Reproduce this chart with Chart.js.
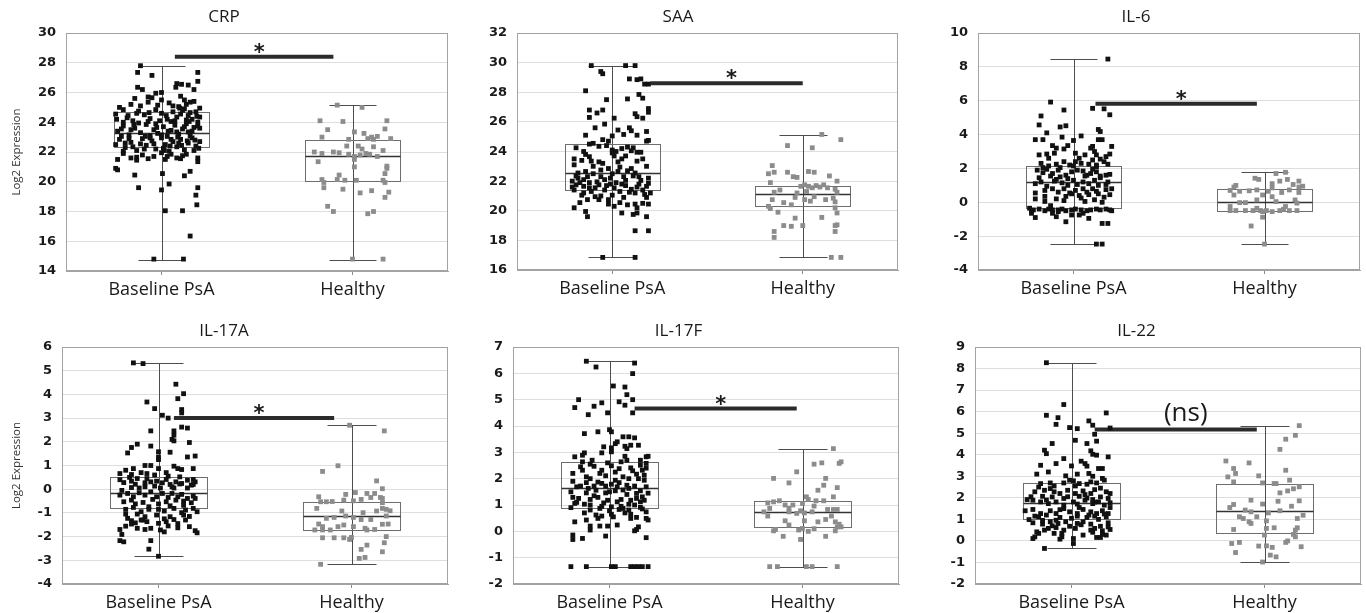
<!DOCTYPE html>
<html>
<head>
<meta charset="utf-8">
<script src="https://cdn.jsdelivr.net/npm/chart.js@4.4.1/dist/chart.umd.min.js"></script>
<style>
html, body { margin: 0; padding: 0; background: #fff; overflow: hidden; }
body { width: 1366px; height: 613px; position: relative; }
.panel { position: absolute; }
</style>
</head>
<body>
<script>
// categories and panel labels
const categories = ['Baseline PsA', 'Healthy'];
const titles = ['CRP', 'SAA', 'IL-6', 'IL-17A', 'IL-17F', 'IL-22'];
const yTitles = ['Log2 Expression', '', '', 'Log2 Expression', '', ''];
const yMins = [14, 16, -4, -4, -2, -2];
const yMaxs = [30, 32, 10, 6, 7, 9];
const ySteps = [2, 2, 2, 1, 1, 1];

// significance bars: start / end on the category axis, height, label
const sigFrom = [0.07, 0.2, 0.115, 0.08, 0.13, 0.12];
const sigTo = [0.9, 1.0, 0.96, 0.91, 0.97, 0.96];
const sigY = [28.4, 28.6, 5.82, 3.0, 4.66, 5.17];
const sigLabels = ['*', '*', '*', '*', '*', '(ns)'];

// box stats per group: [min, q1, median, q3, max]
const crpStats = [[14.75, 22.35, 23.25, 24.7, 27.75], [14.75, 20.05, 21.75, 22.8, 25.15]];
const saaStats = [[16.85, 21.4, 22.55, 24.5, 29.75], [16.85, 20.3, 21.1, 21.7, 25.1]];
const il6Stats = [[-2.47, -0.35, 1.18, 2.17, 8.46], [-2.47, -0.49, 0.04, 0.77, 1.76]];
const il17aStats = [[-2.83, -0.78, -0.17, 0.52, 5.33], [-3.17, -1.72, -1.13, -0.53, 2.7]];
const il17fStats = [[-1.34, 0.87, 1.63, 2.64, 6.46], [-1.34, 0.15, 0.74, 1.16, 3.14]];
const il22Stats = [[-0.35, 1.04, 1.77, 2.69, 8.27], [-0.98, 0.39, 1.4, 2.66, 5.35]];

// individual samples: [jitter from category centre, log2 value]
const crpBase = [[-0.11,27.8],[-0.125,27.35],[-0.05,27.15],[0.19,27.35],
[0.19,26.75],[-0.125,26.35],[-0.1,26.2],[0.075,26.35],[0.08,26.6],[0.105,26.55],[0.14,26.5],[0.17,26.2],[-0.03,25.95],[0.0,26.0],
[-0.14,25.6],[-0.07,25.7],[-0.05,25.65],[0.0,25.5],[0.04,25.3],[0.1,25.75],[0.12,25.5],[0.15,25.35],[-0.16,25.2],[-0.11,25.1],[-0.02,25.15],[0.06,25.1],[0.17,25.4],[-0.22,25.0],[0.09,25.05],[0.2,24.95],
[-0.24,24.55],[-0.2,24.85],[-0.18,24.3],[-0.13,24.6],[-0.09,24.5],[-0.06,24.25],[-0.03,24.85],[0.0,24.6],[0.03,24.2],[0.06,24.7],[0.08,24.35],[0.1,24.55],[0.12,24.9],[0.14,24.45],[0.16,24.2],[0.18,24.7],[0.19,24.0],[-0.15,24.1],[-0.07,24.05],[0.05,24.05],[0.13,24.15],[0.2,24.35],[-0.01,24.1],[0.11,24.8],[0.15,24.65],
[-0.23,23.4],[-0.2,23.75],[-0.17,23.15],[-0.14,23.6],[-0.11,23.3],[-0.08,23.85],[-0.06,23.1],[-0.04,23.5],[-0.02,23.25],[0.01,23.7],[0.03,23.05],[0.05,23.45],[0.07,23.8],[0.09,23.2],[0.11,23.55],[0.13,23.9],[0.15,23.1],[0.17,23.65],[0.19,23.75],[-0.21,23.05],[-0.12,23.95],[0.0,23.15],[0.08,23.35],[0.14,23.35],[-0.03,23.9],[0.2,23.6],[-0.16,23.5],
[-0.24,22.5],[-0.22,22.85],[-0.19,22.3],[-0.16,22.65],[-0.13,22.1],[-0.1,22.9],[-0.08,22.45],[-0.05,22.75],[-0.03,22.2],[0.0,22.95],[0.02,22.5],[0.04,22.05],[0.06,22.7],[0.08,22.35],[0.1,22.85],[0.12,22.15],[0.14,22.6],[0.16,22.95],[0.18,22.4],[0.2,22.7],[-0.2,22.05],[-0.11,22.55],[0.01,22.25],[0.09,22.6],[0.17,22.1],[-0.06,22.95],[0.05,22.85],[-0.17,22.9],
[-0.2,21.9],[-0.16,21.6],[-0.13,21.45],[-0.1,21.8],[-0.07,21.55],[-0.04,21.7],[0.0,21.95],[0.02,21.5],[0.05,21.85],[0.08,21.6],[0.13,21.85],[0.19,21.35],[0.19,21.6],[-0.23,21.5],[0.11,21.75],
[-0.24,20.9],[-0.23,20.8],[-0.14,20.45],[0.005,20.55],[0.12,20.4],[0.15,20.7],
[-0.12,19.6],[0.0,19.45],[0.04,19.85],[0.19,19.6],[0.18,19.1],[0.185,18.45],[0.02,18.05],[0.11,18.05],[0.15,16.35],[-0.04,14.8],[0.115,14.8],
[-0.235,24.2],[-0.21,23.55],[-0.19,22.6],[-0.175,24.45],[-0.15,22.35],[-0.145,23.85],[-0.12,24.75],[-0.09,22.2],[-0.085,23.05],[-0.065,24.65],[-0.04,22.55],[-0.025,23.65],[0.015,22.1],[0.025,24.45],[0.035,23.4],[0.045,22.4],[0.07,24.1],[0.085,23.0],[0.095,24.95],[0.105,22.45],[0.12,23.7],[0.135,22.75],[0.145,24.05],[0.16,23.4],[0.175,22.8],[0.185,24.4],[0.195,22.25],[-0.2,24.0],[-0.13,21.65],[0.03,21.7],[0.1,21.55],[-0.07,25.35],[0.13,25.2]];
const crpHealthy = [[-0.08,25.15],[0.05,25.0],[-0.17,24.1],[-0.05,24.05],[0.18,24.1],[-0.13,23.5],[0.17,23.55],[0.01,23.35],[0.06,23.25],[-0.16,23.0],[0.1,23.0],[0.13,23.05],[-0.02,22.85],[0.08,22.9],[0.11,22.85],[0.2,22.9],[-0.03,22.4],[0.03,22.4],[0.05,22.2],[0.11,22.35],[-0.2,22.0],[-0.16,21.9],[-0.1,22.0],[-0.07,21.95],[-0.02,21.85],[0.01,21.7],[0.04,21.8],[0.07,21.9],[0.09,21.85],[0.16,22.1],[0.13,21.7],[-0.18,21.35],[0.01,21.5],[0.18,21.05],[0.01,21.0],[0.18,20.9],[0.17,20.55],[-0.07,20.45],[-0.08,20.15],[-0.16,20.15],[-0.15,19.95],[-0.04,20.1],[0.02,20.1],[0.16,20.1],[0.17,19.95],[-0.15,19.6],[-0.05,19.5],[0.04,19.25],[0.1,19.4],[0.19,19.3],[0.17,18.95],[-0.13,18.35],[-0.1,18.0],[0.08,17.85],[0.11,18.0],[0.0,14.8],[0.16,14.8]];

const saaBase = [[-0.11,29.8],[-0.06,29.4],[-0.05,29.25],[0.07,29.8],[0.12,29.8],[0.09,28.9],[0.13,28.85],[0.15,28.9],[0.17,28.55],[0.19,28.55],[-0.14,28.1],[0.14,27.85],[0.16,27.6],[0.08,27.55],[-0.03,27.5],[-0.12,26.8],[0.19,26.9],[0.19,26.65],[-0.05,26.8],[-0.08,26.6],[0.12,26.55],[0.13,26.35],[-0.12,26.3],[0.01,26.25],[0.16,26.25],
[-0.09,25.6],[-0.04,25.85],[0.03,25.45],[0.09,25.6],[0.1,25.4],[0.18,25.35],[-0.14,25.1],[0.06,25.15],[0.13,25.1],[0.0,25.05],
[-0.12,24.5],[-0.1,24.55],[-0.05,24.8],[-0.02,24.7],[0.18,24.7],[-0.19,24.25],[-0.07,24.35],[0.0,24.1],[0.05,24.2],[0.08,24.3],[0.11,24.25],[0.13,23.95],[-0.03,24.4],[-0.15,24.0],[0.19,24.75],
[-0.2,23.5],[-0.16,23.4],[-0.11,23.35],[-0.07,23.3],[0.0,23.9],[0.01,23.7],[0.05,23.5],[0.07,23.7],[0.13,23.35],[0.16,23.5],[0.18,23.0],[-0.2,23.1],[-0.14,23.8],[-0.05,23.2],
[-0.18,22.55],[-0.13,22.3],[-0.1,22.5],[-0.06,22.75],[-0.02,22.85],[0.0,22.5],[0.03,22.65],[0.06,22.3],[0.08,22.7],[0.12,22.55],[0.14,22.3],[0.19,22.2],[-0.15,22.1],[-0.04,22.1],[0.04,22.95],[0.1,22.85],
[-0.21,22.0],[-0.19,21.75],[-0.17,21.9],[-0.15,21.65],[-0.12,21.9],[-0.09,21.55],[-0.07,21.75],[-0.04,21.4],[-0.01,21.8],[0.01,21.55],[0.04,21.3],[0.07,21.7],[0.1,21.45],[0.14,21.8],[0.16,21.4],[0.18,21.65],[0.2,21.2],[-0.11,21.3],[0.12,21.2],[0.0,21.05],[-0.15,21.2],[-0.2,21.4],
[-0.2,20.2],[-0.17,20.55],[-0.13,20.75],[-0.07,20.75],[-0.02,20.75],[0.01,20.3],[0.04,20.55],[0.08,20.4],[0.12,20.45],[0.13,20.2],[0.16,20.5],[0.19,20.45],[-0.14,19.95],[-0.13,19.6],[-0.06,21.0],[0.05,19.85],[0.11,19.75],[0.13,19.85],[0.18,19.6],[0.18,20.9],
[0.12,18.65],[0.19,18.65],[-0.05,16.85],[0.12,16.85],
[-0.21,21.6],[-0.18,22.2],[-0.16,21.05],[-0.14,22.65],[-0.12,21.55],[-0.1,23.0],[-0.08,21.95],[-0.06,22.3],[-0.03,21.7],[-0.01,22.2],[0.02,21.9],[0.03,23.3],[0.05,21.8],[0.07,22.05],[0.09,21.25],[0.11,22.35],[0.13,21.6],[0.15,22.05],[0.17,21.1],[0.19,21.85],[-0.19,22.35],[-0.09,20.95],[0.02,24.0],[0.1,24.05],[-0.12,23.65],[0.15,23.95],[-0.02,20.45],[0.06,20.9]];
const saaHealthy = [[0.1,25.15],[0.2,24.8],[-0.08,24.4],[0.05,24.25],[-0.16,23.05],[-0.18,22.5],[-0.15,22.6],[-0.08,22.6],[-0.05,22.3],[-0.03,22.25],[0.03,22.65],[0.06,22.6],[0.14,22.35],[0.18,22.0],[-0.17,21.9],[-0.12,21.4],[-0.01,21.65],[0.01,21.75],[0.03,21.65],[0.05,21.55],[0.07,21.7],[0.09,21.6],[0.11,21.75],[0.13,21.55],[0.17,21.45],[-0.15,21.25],[-0.03,21.2],[0.02,21.3],[0.18,21.25],[-0.16,20.75],[-0.1,20.55],[-0.06,20.4],[-0.04,20.9],[0.01,20.75],[0.04,20.65],[0.06,20.95],[0.12,20.75],[0.16,20.85],[0.17,20.6],[-0.18,20.3],[-0.17,20.15],[-0.13,19.9],[0.17,20.2],[0.18,19.85],[-0.04,19.5],[-0.1,19.0],[-0.06,18.95],[0.0,19.0],[0.1,19.55],[0.17,19.0],[0.18,19.05],[-0.15,18.6],[-0.15,18.2],[0.17,18.6],[0.15,16.85],[0.2,16.85]];

const il6Base = [[0.18,8.46],[-0.12,5.92],[0.1,5.55],[0.16,5.52],[0.19,5.17],[-0.05,5.45],[-0.17,5.1],[-0.18,4.57],[-0.07,4.45],[-0.04,4.52],[0.13,4.3],[0.14,4.18],[-0.14,4.1],[-0.06,3.85],[0.04,3.92],[-0.2,3.7],[-0.16,3.7],[0.0,3.65],[0.13,3.7],[0.15,3.7],[-0.11,3.35],[-0.09,3.2],[-0.05,3.15],[-0.03,3.35],[0.09,3.2],[0.1,3.3],[0.2,3.3],[-0.18,2.8],[-0.14,2.85],[-0.1,2.9],[0.01,2.9],[0.06,2.8],[0.11,3.0],[0.12,2.8],[0.17,2.7],[0.19,2.85],
[-0.17,2.3],[-0.13,2.15],[-0.09,2.25],[-0.05,2.4],[-0.02,2.2],[0.01,2.4],[0.04,2.3],[0.08,2.25],[0.1,2.5],[0.12,2.2],[0.16,2.4],[0.18,2.25],[0.12,2.1],
[-0.19,1.9],[-0.16,1.75],[-0.14,1.95],[-0.11,1.7],[-0.08,1.9],[-0.07,1.5],[-0.04,1.6],[-0.01,1.8],[0.02,1.9],[0.05,1.85],[0.07,1.6],[0.09,1.7],[0.12,1.8],[0.14,1.45],[0.17,1.6],[0.19,1.65],[-0.2,1.1],[-0.17,1.2],[-0.09,1.35],[-0.06,1.15],[-0.03,1.0],[0.0,1.3],[0.05,1.2],[0.08,1.1],[0.11,1.3],[0.13,1.0],[0.18,1.2],[-0.12,1.55],
[-0.2,0.55],[-0.15,0.7],[-0.11,0.8],[-0.08,0.6],[-0.05,0.8],[-0.01,0.5],[0.01,0.7],[0.05,0.8],[0.07,0.6],[0.1,0.8],[0.13,0.5],[0.17,0.75],[0.2,0.8],[-0.15,0.35],[-0.09,0.2],[-0.04,0.35],[0.04,0.25],[0.11,0.15],[0.16,0.3],[-0.15,0.05],[0.06,0.05],
[-0.23,-0.35],[-0.21,-0.45],[-0.18,-0.4],[-0.15,-0.5],[-0.13,-0.4],[-0.11,-0.45],[-0.08,-0.45],[-0.06,-0.4],[-0.04,-0.5],[-0.01,-0.45],[0.01,-0.4],[0.04,-0.45],[0.07,-0.5],[0.09,-0.45],[0.12,-0.4],[0.14,-0.45],[0.17,-0.4],[0.19,-0.45],[-0.22,-0.65],[-0.2,-0.9],[-0.09,-0.85],[-0.04,-1.15],[0.03,-0.75],[0.08,-0.95],[-0.08,-0.55],[-0.01,-0.75],[0.15,-1.25],[0.18,-1.25],[0.12,-2.47],[0.15,-2.47],[-0.11,-0.65],[0.05,-0.65],
[-0.2,0.2],[-0.18,1.45],[-0.16,2.05],[-0.14,0.95],[-0.12,-0.2],[-0.1,1.25],[-0.07,2.05],[-0.05,0.1],[-0.03,1.4],[-0.02,0.55],[0.0,2.15],[0.02,1.05],[0.03,0.4],[0.06,1.55],[0.08,0.45],[0.1,1.95],[0.12,0.65],[0.14,1.55],[0.15,0.0],[0.17,1.05],[0.19,0.45],[-0.13,2.6],[0.03,2.6],[0.14,2.55],[-0.22,-0.5],[0.2,-0.5]];
const il6Healthy = [[0.06,1.7],[0.11,1.77],[-0.03,1.35],[-0.05,1.42],[0.08,1.25],[0.12,1.35],[0.18,1.25],[-0.15,1.0],[-0.16,0.9],[0.04,1.1],[0.15,1.05],[0.18,0.9],[0.2,0.95],[0.18,0.58],[-0.18,0.7],[-0.13,0.65],[-0.08,0.68],[-0.04,0.73],[0.02,0.65],[0.04,0.85],[0.09,0.58],[0.13,0.73],[-0.16,0.43],[-0.01,0.43],[0.04,0.33],[0.16,0.14],[-0.13,-0.02],[-0.1,-0.02],[-0.04,0.14],[0.06,0.04],[0.17,-0.05],[-0.18,-0.25],[0.11,-0.25],[-0.04,-0.35],[-0.18,-0.49],[-0.15,-0.49],[-0.1,-0.49],[-0.06,-0.49],[-0.02,-0.49],[0.01,-0.49],[0.04,-0.55],[0.08,-0.49],[0.13,-0.49],[0.17,-0.49],[-0.01,-0.55],[0.1,-0.41],[-0.01,-0.88],[-0.07,-1.4],[0.0,-2.47]];

const il17aBase = [[-0.13,5.33],[-0.08,5.3],[0.09,4.43],[0.13,4.03],[0.1,3.82],[-0.06,3.68],[-0.02,3.4],[0.12,3.36],[0.12,3.22],[0.02,3.12],[0.05,3.0],[0.12,2.62],[0.15,2.58],[-0.04,2.46],[0.08,2.46],[0.08,2.28],[0.07,2.1],[0.08,2.04],[0.16,1.97],[-0.11,1.9],[-0.14,1.76],[-0.04,1.82],[-0.16,1.53],[0.0,1.58],[0.06,1.56],[0.0,1.36],[0.0,1.25],[0.15,1.36],[0.19,1.4],
[-0.07,1.0],[-0.04,1.0],[-0.17,0.8],[-0.13,0.87],[0.08,0.97],[0.1,0.87],[0.12,0.83],[0.18,0.87],[-0.2,0.66],[-0.14,0.62],[-0.09,0.7],[-0.06,0.66],[0.0,0.87],[0.05,0.55],
[-0.18,0.28],[-0.14,0.34],[-0.12,0.21],[-0.07,0.27],[-0.04,0.31],[-0.01,0.34],[0.02,0.27],[0.06,0.2],[0.09,0.31],[0.12,0.24],[0.15,0.38],[0.18,0.41],[0.19,0.31],[-0.11,0.45],[0.04,0.41],[0.11,0.52],[-0.02,0.13],[-0.07,0.1],[0.07,0.1],[0.17,0.17],[-0.14,0.07],
[-0.2,-0.25],[-0.16,-0.18],[-0.13,-0.32],[-0.1,-0.15],[-0.07,-0.25],[-0.04,-0.11],[-0.01,-0.32],[0.02,-0.18],[0.05,-0.35],[0.07,-0.18],[0.1,-0.32],[0.12,-0.22],[0.15,-0.39],[0.18,-0.29],[-0.18,-0.53],[-0.14,-0.46],[-0.08,-0.56],[-0.03,-0.43],[0.04,-0.53],[0.09,-0.46],[0.13,-0.5],[0.17,-0.57],[0.19,-0.39],
[-0.17,-0.85],[-0.13,-0.77],[-0.09,-0.95],[-0.05,-0.74],[0.0,-0.85],[0.03,-0.92],[0.08,-0.81],[0.12,-0.99],[0.14,-0.88],[0.18,-0.81],[-0.11,-1.05],[-0.07,-1.16],[-0.01,-1.09],[0.06,-1.16],[0.13,-1.09],
[-0.16,-1.23],[-0.14,-1.33],[-0.12,-1.42],[-0.09,-1.3],[-0.06,-1.37],[0.0,-1.44],[0.04,-1.37],[0.08,-1.28],[0.14,-1.3],[-0.17,-1.56],[-0.14,-1.47],[-0.07,-1.7],[-0.04,-1.65],[0.01,-1.72],[0.03,-1.8],[0.1,-1.63],[0.16,-1.58],[0.19,-1.75],[0.2,-1.84],[-0.2,-1.7],[-0.19,-1.91],
[-0.2,-2.17],[-0.18,-2.22],[-0.04,-2.17],[-0.05,-2.53],[0.0,-2.83],
[-0.19,-0.05],[-0.17,-1.05],[-0.15,0.5],[-0.12,-0.62],[-0.1,0.05],[-0.08,-1.3],[-0.06,0.45],[-0.05,-0.85],[-0.02,0.6],[0.0,-0.62],[0.01,0.05],[0.03,-1.25],[0.04,0.7],[0.06,-0.7],[0.08,0.05],[0.1,-1.45],[0.11,0.22],[0.13,-0.68],[0.15,0.05],[0.16,-1.15],[0.18,0.2],[0.2,-0.95],[-0.2,0.4],[-0.11,-1.65],[0.05,-1.55]];
const il17aHealthy = [[-0.01,2.7],[0.17,2.46],[-0.07,0.99],[-0.15,0.75],[0.13,0.35],[0.02,-0.14],[0.08,-0.18],[0.12,-0.18],[0.16,0.02],[-0.03,-0.22],[0.05,-0.43],[0.01,-0.49],[0.1,-0.35],[0.15,-0.35],[0.16,-0.39],[-0.17,-0.32],[-0.16,-0.53],[-0.13,-0.53],[-0.1,-0.52],[-0.04,-0.46],[0.16,-0.57],[-0.18,-0.81],[0.18,-0.85],[0.2,-0.91],[-0.05,-0.92],[0.06,-0.99],[0.13,-0.92],[0.16,-0.81],[0.01,-1.19],[-0.13,-1.23],[-0.09,-1.19],[-0.03,-1.13],[0.05,-1.28],[0.1,-1.28],[0.18,-1.13],[0.16,-1.48],[0.19,-1.47],[-0.17,-1.47],[-0.15,-1.58],[-0.07,-1.58],[-0.04,-1.51],[0.01,-1.58],[0.07,-1.65],[0.12,-1.7],[0.08,-1.72],[-0.19,-1.72],[-0.15,-1.72],[-0.11,-1.72],[0.0,-2.03],[-0.15,-2.05],[-0.09,-2.05],[-0.04,-2.05],[-0.01,-2.12],[0.18,-2.0],[0.17,-2.26],[0.08,-2.36],[0.05,-2.54],[0.16,-2.64],[0.04,-2.92],[0.07,-2.88],[-0.16,-3.17]];

const il17fBase = [[-0.12,6.46],[-0.07,6.24],[0.13,6.39],[0.12,5.99],[0.02,5.52],[0.08,5.48],[0.09,5.19],[-0.16,5.0],[0.12,5.0],[-0.18,4.7],[-0.08,4.75],[-0.04,4.88],[0.05,4.92],[0.08,4.79],[-0.01,4.5],[0.12,4.5],[-0.11,4.43],[0.0,3.86],[0.01,3.78],[-0.13,3.71],[-0.06,3.78],[0.07,3.59],[0.1,3.59],[0.13,3.55],[0.03,3.33],[0.11,3.27],[0.08,3.23],[0.15,3.27],[-0.03,3.21],[0.01,3.17],[0.09,3.14],[0.01,3.02],[-0.04,2.98],[-0.18,2.83],[-0.14,2.89],[-0.13,2.98],[0.19,2.83],[0.2,2.85],[0.16,2.7],[0.09,2.7],[0.06,2.64],[-0.14,2.64],
[-0.1,2.55],[-0.08,2.47],[-0.14,2.32],[-0.04,2.32],[0.01,2.49],[0.05,2.38],[0.11,2.41],[0.16,2.51],[0.19,2.58],[0.17,2.32],[-0.19,2.2],[-0.12,2.07],[-0.1,2.0],[-0.02,2.11],[0.03,1.94],[0.07,2.07],[0.1,2.0],[0.14,2.17],[0.18,2.13],[0.18,1.94],[-0.06,1.87],
[-0.17,1.69],[-0.15,1.72],[-0.11,1.63],[-0.08,1.72],[-0.04,1.82],[-0.02,1.72],[0.01,1.79],[0.04,1.69],[0.07,1.57],[0.1,1.63],[0.13,1.72],[0.16,1.54],[0.19,1.69],[-0.2,1.5],[-0.12,1.46],[-0.07,1.56],[-0.02,1.46],[0.03,1.54],[0.09,1.4],[0.14,1.44],[0.17,1.31],[-0.19,1.29],[-0.16,1.25],[-0.1,1.21],[-0.06,1.29],[-0.01,1.18],[0.04,1.12],[0.06,1.21],[0.11,1.18],[0.16,1.12],[0.18,1.18],[-0.18,1.06],[-0.13,1.03],[-0.1,1.0],[-0.03,1.08],[0.1,1.03],[0.13,1.0],[0.01,0.93],[0.07,0.87],
[-0.1,0.81],[-0.05,0.87],[0.0,0.78],[0.05,0.83],[0.1,0.81],[0.16,0.91],[0.19,0.74],[-0.07,0.62],[-0.06,0.49],[-0.04,0.58],[0.01,0.65],[0.08,0.7],[0.11,0.49],[0.14,0.53],[0.19,0.49],[0.2,0.43],[-0.18,0.36],[-0.12,0.43],[-0.1,0.2],[-0.05,0.2],[-0.01,0.2],[0.04,0.24],[0.15,0.17],[0.13,0.02],[0.14,0.07],[-0.1,0.05],[-0.02,-0.18],[0.19,-0.24],[-0.14,-0.27],[-0.19,-0.31],[-0.19,-0.14],
[-0.2,-1.34],[-0.12,-1.34],[0.01,-1.34],[0.03,-1.34],[0.11,-1.34],[0.13,-1.34],[0.15,-1.34],[0.17,-1.34],[0.2,-1.34],
[-0.19,1.9],[-0.17,1.1],[-0.15,2.45],[-0.13,0.7],[-0.12,1.85],[-0.09,2.7],[-0.08,1.35],[-0.05,2.2],[-0.04,0.95],[-0.01,2.6],[0.0,1.5],[0.02,0.55],[0.03,2.25],[0.05,1.85],[0.06,0.95],[0.08,2.85],[0.09,1.75],[0.11,0.65],[0.12,2.3],[0.14,1.25],[0.15,2.0],[0.17,0.85],[0.19,2.4],[0.2,1.45],[-0.2,0.9],[0.04,3.4]];
const il17fHealthy = [[0.16,3.14],[0.06,2.55],[0.1,2.6],[0.19,2.58],[0.2,2.64],[-0.03,2.26],[-0.15,2.01],[0.12,2.01],[-0.07,1.84],[0.11,1.75],[0.08,1.56],[0.18,1.66],[0.02,1.31],[0.16,1.31],[0.03,1.21],[0.07,1.16],[0.11,1.16],[-0.18,1.08],[-0.15,1.12],[-0.12,1.16],[0.0,1.06],[-0.05,1.0],[-0.09,1.0],[0.06,0.96],[-0.17,0.87],[-0.07,0.87],[0.13,0.83],[0.16,0.83],[0.18,0.83],[-0.2,0.74],[-0.07,0.74],[-0.01,0.78],[0.01,0.7],[0.05,0.74],[-0.03,0.68],[-0.18,0.58],[0.15,0.58],[0.01,0.4],[-0.09,0.4],[0.08,0.36],[0.12,0.45],[0.17,0.36],[0.19,0.27],[0.18,0.17],[0.2,0.17],[-0.07,0.24],[-0.02,0.05],[0.06,0.1],[0.0,0.11],[-0.14,0.07],[-0.15,0.02],[0.03,0.0],[0.17,0.02],[0.12,-0.19],[-0.1,-0.19],[-0.01,-0.31],[-0.17,-1.34],[-0.13,-1.34],[0.02,-1.34],[0.05,-1.34],[0.18,-1.34]];

const il22Base = [[-0.13,8.27],[-0.04,6.33],[-0.13,5.83],[-0.07,5.72],[0.18,5.94],[-0.08,5.41],[0.09,5.57],[0.11,5.37],[-0.01,5.26],[0.03,5.21],[0.2,5.24],[0.12,4.95],[0.02,4.67],[0.13,4.63],[-0.1,4.52],[0.08,4.52],[-0.14,4.21],[-0.13,4.05],[0.1,4.18],[0.11,4.02],[0.13,3.98],[0.19,3.9],[-0.04,3.82],[-0.08,3.59],[-0.16,3.51],[0.0,3.48],[0.07,3.59],[0.08,3.47],[0.14,3.36],[0.16,3.36],[-0.18,3.1],[0.03,3.1],[0.09,3.13],[0.11,3.0],[-0.03,3.02],[-0.01,2.82],[0.01,2.79],[0.16,2.9],[0.17,2.82],[-0.16,2.66],[-0.11,2.69],[-0.04,2.69],[0.04,2.66],[0.08,2.63],[0.1,2.74],[0.13,2.69],
[-0.19,2.28],[-0.14,2.35],[-0.11,2.43],[-0.09,2.28],[-0.06,2.2],[-0.02,2.35],[0.02,2.2],[0.06,2.32],[0.1,2.2],[0.12,2.38],[0.18,2.28],[0.2,2.2],[-0.15,2.07],[-0.1,2.04],[-0.04,1.97],[0.04,2.07],[0.08,1.99],[0.11,1.92],[0.15,2.04],[0.19,1.97],[-0.23,1.92],[-0.2,1.89],[-0.16,1.81],[-0.12,1.73],[-0.08,1.81],[-0.04,1.66],[0.01,1.81],[0.03,1.71],[0.07,1.89],[0.11,1.73],[0.14,1.81],[0.17,1.66],[0.2,1.77],
[-0.24,1.4],[-0.2,1.46],[-0.16,1.27],[-0.11,1.4],[-0.08,1.27],[-0.04,1.5],[-0.01,1.35],[0.03,1.27],[0.06,1.46],[0.1,1.35],[0.13,1.27],[0.16,1.4],[0.19,1.27],[-0.17,1.12],[-0.13,1.2],[-0.06,1.09],[0.03,1.15],[0.08,1.09],[0.12,1.15],[0.18,1.12],[-0.22,0.99],[-0.08,0.96],
[-0.2,0.84],[-0.15,0.78],[-0.11,0.89],[-0.07,0.81],[-0.03,0.89],[-0.01,0.68],[0.03,0.81],[0.06,0.89],[0.1,0.78],[0.15,0.68],[0.19,0.84],[-0.12,0.58],[-0.08,0.62],[-0.04,0.5],[0.02,0.58],[0.1,0.5],[0.12,0.58],[0.16,0.47],[0.2,0.53],[-0.18,0.42],[-0.14,0.5],[-0.09,0.35],[-0.17,0.35],[0.16,0.3],[0.18,0.27],[-0.19,0.19],[0.06,0.27],[-0.05,0.19],[0.01,0.11],[-0.2,0.11],[-0.06,0.08],[0.13,0.16],[0.15,0.16],[0.01,-0.12],[-0.14,-0.35],
[-0.21,2.05],[-0.19,1.15],[-0.17,2.5],[-0.15,0.95],[-0.13,1.9],[-0.1,0.7],[-0.09,2.55],[-0.06,1.45],[-0.05,0.35],[-0.02,2.05],[0.0,1.05],[0.02,2.55],[0.04,1.55],[0.05,0.75],[0.07,2.15],[0.09,1.2],[0.11,0.4],[0.12,1.8],[0.14,1.0],[0.15,2.45],[0.17,1.25],[0.19,0.65],[0.2,1.55],[-0.12,3.2],[0.05,3.7]];
const il22Healthy = [[0.18,5.35],[0.16,4.9],[0.11,4.72],[0.08,4.25],[-0.2,3.71],[-0.08,3.62],[-0.16,3.36],[0.11,3.28],[-0.15,3.13],[-0.03,3.02],[-0.19,2.97],[0.13,2.82],[-0.16,2.74],[0.06,2.66],[0.05,2.66],[-0.01,2.69],[0.18,2.51],[0.15,2.42],[0.12,2.32],[0.08,2.23],[-0.07,1.89],[0.18,1.86],[0.07,1.84],[-0.16,1.69],[-0.01,1.71],[-0.18,1.55],[0.14,1.61],[0.08,1.4],[-0.1,1.43],[-0.07,1.35],[0.02,1.3],[0.2,1.19],[-0.13,1.12],[-0.11,1.04],[-0.04,1.12],[-0.08,0.89],[0.01,0.93],[0.17,1.04],[-0.07,0.81],[0.01,0.58],[0.05,0.61],[0.17,0.61],[-0.16,0.53],[0.16,0.5],[0.15,0.3],[0.16,0.19],[0.12,0.0],[0.11,-0.07],[0.0,0.27],[-0.17,-0.12],[-0.13,-0.07],[-0.03,-0.24],[0.01,-0.23],[0.04,-0.3],[0.19,-0.27],[-0.15,-0.54],[0.03,-0.66],[0.06,-0.74],[-0.01,-0.98]];

const boxStats = [crpStats, saaStats, il6Stats, il17aStats, il17fStats, il22Stats];
const baselinePoints = [crpBase, saaBase, il6Base, il17aBase, il17fBase, il22Base];
const healthyPoints = [crpHealthy, saaHealthy, il6Healthy, il17aHealthy, il17fHealthy, il22Healthy];

// page layout: plot area of each panel [left, top, right, bottom] and the canvas origin
const frames = [[66,33,448,271],[517,33,898,270],[978,33,1360,270],[62,347,448,584],[513,347,899,584],[975,347,1361,584]];
const origins = [[0,0],[458,0],[912,0],[0,314],[458,314],[912,314]];

// draws the boxes + whiskers behind the dots, and the plot frame
const boxPlugin = {
    id: 'boxes',
    beforeDatasetsDraw(chart, args, opts) {
        const ctx = chart.ctx;
        const x = chart.scales.x, y = chart.scales.y;
        const a = chart.chartArea;
        ctx.save();
        ctx.strokeStyle = '#a3a3a3';
        ctx.lineWidth = 1;
        ctx.strokeRect(Math.round(a.left) + 0.5, Math.round(a.top) + 0.5, Math.round(a.right - a.left) - 1, Math.round(a.bottom - a.top) - 1);

        opts.stats.forEach((s, k) => {
            const c = Math.round(x.getPixelForValue(k)) + 0.5;
            const bl = Math.round(x.getPixelForValue(k - 0.25)) + 0.5;
            const br = Math.round(x.getPixelForValue(k + 0.25)) + 0.5;
            const cl = Math.round(x.getPixelForValue(k - 0.125)) + 0.5;
            const cr = Math.round(x.getPixelForValue(k + 0.125)) + 0.5;
            const py = v => Math.round(y.getPixelForValue(v)) + 0.5;
            const [mn, q1, md, q3, mx] = s;

            ctx.strokeStyle = '#4d4d4d';
            ctx.lineWidth = 1;
            ctx.beginPath();
            ctx.moveTo(c, py(mn)); ctx.lineTo(c, py(mx));
            ctx.moveTo(cl, py(mn)); ctx.lineTo(cr, py(mn));
            ctx.moveTo(cl, py(mx)); ctx.lineTo(cr, py(mx));
            ctx.stroke();

            ctx.strokeStyle = '#6e6e6e';
            ctx.strokeRect(bl, py(q3), br - bl, py(q1) - py(q3));

            ctx.strokeStyle = '#333';
            ctx.lineWidth = 1.5;
            ctx.beginPath();
            ctx.moveTo(bl, py(md)); ctx.lineTo(br, py(md));
            ctx.stroke();
        });
        ctx.restore();
    },
    afterDatasetsDraw(chart, args, opts) {
        const ctx = chart.ctx;
        const x = chart.scales.x, y = chart.scales.y;
        const mid = x.getPixelForValue((opts.from + opts.to) / 2);
        const yy = y.getPixelForValue(opts.y);
        ctx.save();
        ctx.fillStyle = '#1a1a1a';
        ctx.textAlign = 'center';
        ctx.textBaseline = 'alphabetic';
        if (opts.label === '*') {
            ctx.font = 'bold 21px "DejaVu Sans"';
            ctx.fillText(opts.label, mid + 5, yy + 2);
        } else {
            ctx.font = '26px "Open Sans"';
            ctx.fillText(opts.label, mid + 10, yy - 9);
        }
        ctx.restore();
    }
};

function drawPanel(i) {
    const [L, T, R, B] = frames[i];
    const [ox, oy] = origins[i];
    const holder = document.createElement('div');
    holder.className = 'panel';
    holder.style.left = ox + 'px';
    holder.style.top = oy + 'px';
    holder.style.width = (R + 4 - ox) + 'px';
    holder.style.height = (B + 32 - oy) + 'px';
    const canvas = document.createElement('canvas');
    holder.appendChild(canvas);
    document.body.appendChild(holder);

    new Chart(canvas, {
        type: 'scatter',
        data: {
            datasets: [
                {
                    data: baselinePoints[i].map(p => ({ x: 0 + p[0], y: p[1] })),
                    backgroundColor: '#111',
                    pointStyle: 'rect',
                    pointRadius: 3.4,
                    borderWidth: 0
                },
                {
                    data: healthyPoints[i].map(p => ({ x: 1 + p[0], y: p[1] })),
                    backgroundColor: '#8c8c8c',
                    pointStyle: 'rect',
                    pointRadius: 3.4,
                    borderWidth: 0
                },
                {
                    type: 'line',
                    data: [{ x: sigFrom[i], y: sigY[i] }, { x: sigTo[i], y: sigY[i] }],
                    borderColor: '#2b2b2b',
                    borderWidth: 4,
                    pointRadius: 0,
                    showLine: true,
                    borderCapStyle: 'butt'
                }
            ]
        },
        options: {
            responsive: true,
            maintainAspectRatio: false,
            animation: false,
            events: [],
            layout: { padding: { left: 0, top: 0, right: 4, bottom: 0 } },
            plugins: {
                legend: { display: false },
                tooltip: { enabled: false },
                title: {
                    display: true,
                    text: titles[i],
                    color: '#1a1a1a',
                    font: { family: '"Open Sans"', size: 17, weight: 'normal', lineHeight: 1.2 },
                    padding: { top: 7, bottom: T - oy - 7 - 20.4 }
                },
                boxes: {
                    stats: boxStats[i],
                    from: sigFrom[i],
                    to: sigTo[i],
                    y: sigY[i],
                    label: sigLabels[i]
                }
            },
            scales: {
                x: {
                    type: 'linear',
                    min: -0.5,
                    max: 1.5,
                    afterBuildTicks: s => { s.ticks = [{ value: 0 }, { value: 1 }]; },
                    afterFit: s => { s.height = 32; },
                    grid: { drawOnChartArea: false, drawTicks: true, tickLength: 4, color: '#8a8a8a' },
                    border: { color: '#a3a3a3' },
                    ticks: {
                        autoSkip: false,
                        maxRotation: 0,
                        padding: 4,
                        color: '#1a1a1a',
                        font: { family: '"Open Sans"', size: 18 },
                        callback: v => categories[Math.round(v)]
                    }
                },
                y: {
                    min: yMins[i],
                    max: yMaxs[i],
                    afterFit: s => { s.width = L - ox; },
                    grid: { color: '#dedede', drawTicks: false },
                    border: { color: '#a3a3a3' },
                    ticks: {
                        stepSize: ySteps[i],
                        padding: 10,
                        color: '#1a1a1a',
                        font: { family: '"DejaVu Sans"', size: 13, weight: 'bold' }
                    },
                    title: {
                        display: yTitles[i] !== '',
                        text: yTitles[i],
                        color: '#333',
                        font: { family: '"Open Sans"', size: 11.5 },
                        padding: { top: 10, bottom: 0 }
                    }
                }
            }
        },
        plugins: [boxPlugin]
    });
}

for (let i = 0; i < titles.length; i++) drawPanel(i);
</script>
</body>
</html>
